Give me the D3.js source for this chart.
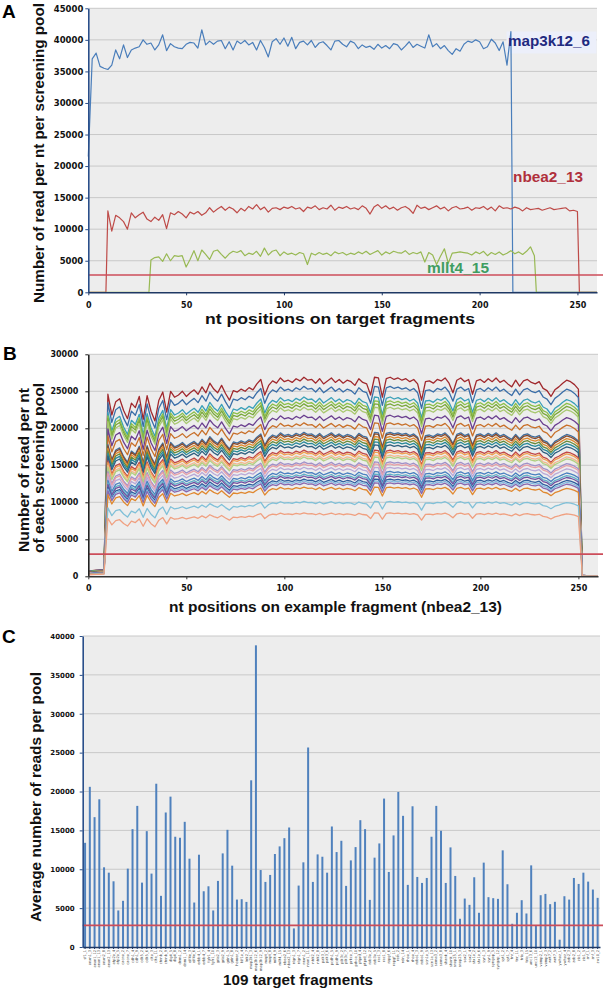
<!DOCTYPE html>
<html>
<head>
<meta charset="utf-8">
<script src="https://cdn.jsdelivr.net/npm/d3@7"></script>
<style>
  body { margin: 0; background: #fff; }
  svg { display: block; }
</style>
</head>
<body>
<svg id="fig" width="605" height="992"></svg>
<script>
// ---- Panel A : read depth per nt, three example fragments (values every 2 nt) ----
const aMaxPos = 260;
const aThreshold = 2750;

const map3k12From = 0;
const map3k12Vals = [
  21500, 37000, 37900, 35800, 35500, 35300, 36000, 38400, 37000, 39200,
  37200, 38400, 38700, 38900, 40000, 39300, 39500, 38400, 39200, 40800,
  38300, 39400, 38900, 38700, 38600, 39300, 39600, 39500, 38700, 41600,
  39200, 39800, 39300, 39800, 39900, 38600, 39700, 38400, 39800, 39400,
  39900, 39200, 39600, 38400, 39900, 38800, 37300, 39700, 40200, 39300,
  40300, 39000, 40400, 38600, 39600, 39800, 39200, 39900, 38800, 39500,
  39700, 39100, 38400, 39800, 39900, 39300, 38900, 39800, 39500, 38600,
  39200, 38800, 39000, 38500, 39300, 38700, 39100, 38600, 39400, 39200,
  38400, 39000, 39700, 38800, 39300, 39000, 38700, 40800, 38900, 39400,
  38600, 39100, 38300, 37700, 38600, 38200, 39300, 39800, 39600, 40000,
  39700, 38600, 38900, 40100, 39500, 38300, 39700, 36000, 41300
];

const nbea2From = 10;
const nbea2Vals = [
  12900, 9700, 12200, 11800, 11200, 10000, 12600, 11800, 12300, 12700,
  11600, 11200, 11900, 11400, 12300, 10100, 12600, 12300, 12800, 12400,
  11800, 12700, 12400, 12800, 12200, 12600, 13400, 12700, 13200, 13600,
  13000, 13500, 13200, 12600, 13300, 12900, 13600, 13200, 13900, 13100,
  13500, 12700, 13300, 13400, 13100, 13500, 13300, 13600, 13200, 13400,
  12800, 13500, 13300, 13700, 13100, 13400, 13200, 13800, 13000, 13500,
  13300, 13600, 13200, 13400, 13100, 13700, 13300, 12400, 13500, 13900,
  13300, 13700, 13200, 13500, 13000, 13400, 13600, 13200, 12500, 13800,
  13300, 13500, 13100, 13400, 13700, 13200, 13500, 12900, 13400, 13600,
  13200, 13300, 13500, 13000, 13400, 13300, 13600, 13100, 13500, 12900,
  13700, 13300, 13400, 13200, 13500, 13300, 12900, 13400, 13100, 13200,
  13300, 13000, 13200, 13400, 13100, 13200, 13300, 13400, 12900, 13000,
  12800
];

const mllt4From = 32;
const mllt4Vals = [
  5100, 5500, 5600, 4900, 6100, 5000, 5800, 5700, 5800, 4000,
  5200, 6600, 5000, 6700, 6000, 5200, 6500, 6700, 6000, 5400,
  6100, 6500, 6300, 6600, 5800, 6200, 6000, 6500, 5700, 7000,
  5900, 6500, 6700, 5800, 6400, 6000, 6200, 5900, 6300, 6100,
  4400, 6200, 5900, 6300, 6000, 6200, 5800, 6400, 6100, 6300,
  5900, 6200, 6000, 6400, 6100, 6500, 6000, 6300, 6600, 5900,
  6400, 6100, 6500, 6300, 6200, 6600, 6000, 6300, 6100, 6400,
  4800, 6300, 5900, 4400, 5700, 6900, 4600, 6200, 6300, 6400,
  6300, 6200, 5900, 6400, 6100, 6500, 5800, 6300, 6000, 6400,
  5900, 6200, 6600, 6100, 6400, 6000, 6500, 7200, 5800
];

const aNames  = ["map3k12_6", "nbea2_13", "mllt4_15"];
const aColors = ["#4a7ebb", "#be4b48", "#98b954"];

// ---- Panel B : nbea2_13 coverage in each screening pool ----
// coverage profile of the deepest pool (every 2 nt from 0 to 260), and plateau level of every pool
const bThreshold = 3000;
const bProfile = [
  650, 760, 820, 860, 900,
  24600, 21800, 23600, 24000, 22400, 21300, 23400, 22800, 24300, 21200,
  24400, 22300, 21000, 23800, 24900, 22200, 25000, 24200, 24500, 25000,
  24300, 24800, 25200, 24600, 25600, 24800, 26100, 25300, 24800, 25800,
  24700, 23800, 25100, 24900, 25300, 25000, 25500, 25200, 26000, 26600,
  24500, 25800, 26400, 26100, 26800, 26300, 26500, 26200, 26700, 26400,
  26900, 26500, 26600, 26100, 26700, 26000, 26400, 26800, 26200, 26600,
  26100, 26500, 26300, 25800, 26700, 26200, 26000, 24500, 26900, 26800,
  24200, 26700, 26900, 26600, 26800, 26500, 26700, 26300, 26600, 26000,
  23800, 26300, 26400, 26100, 26600, 26400, 26800, 26100, 24800, 26500,
  26800, 26300, 26600, 24600, 26400, 26600, 26200, 26700, 26300, 26800,
  26200, 26500, 26000, 25600, 26500, 25700, 26400, 26600, 26200, 26000,
  26300, 25400, 25100, 24300, 25200, 25600, 26100, 26500, 26300, 25900,
  25300,
  150, 100, 80, 60, 50
];
const bPoolLevels = [
  26200, 25000, 23600, 23100, 22700, 22250, 21200, 20200, 18950, 18750,
  18400, 18050, 17700, 17300, 16600, 16350, 15950, 15700, 15050, 14800,
  14350, 13800, 13450, 13200, 12800, 12550, 12300, 11750, 9850, 8350
];
const bPoolColors = [
  "#a0282d", "#3a6ea8", "#3aa0b8", "#8cc04a", "#7aa83c", "#a8c870", "#6a3f8f", "#c8702a", "#3f6f9f", "#8a4a2a",
  "#e08a30", "#6a8a3a", "#2a8a9a", "#2f5f7f", "#c04848", "#f0a050", "#f2b890", "#b0d080", "#a090c8", "#e8a0a8",
  "#b8a8d8", "#4a80c0", "#60b0c8", "#7050a0", "#2f5f9f", "#80b8e0", "#8868b0", "#e08830", "#80c0d8", "#f0a080"
];

// ---- Panel C : average reads per pool for the 109 target fragments ----
const cThreshold = 2780;
const cNames = [
  "sf1_1", "anxn1_3", "anxn1_12", "anxn1_13", "anxn2_8", "anxn2_13", "atp2a_4", "atp2a_5", "cacna_2", "cacna_7",
  "cdh1_4", "cdh1_9", "cdk5_2", "cdk5_6", "clta_3", "clta_11", "ctnnb_2", "ctnnb_9", "dlg4_5", "dlg4_8",
  "dnm1_2", "dnm1_14", "eif4e_3", "eif4e_6", "erbb4_1", "erbb4_7", "fgfr1_4", "fgfr1_10", "gria2_3", "gria2_9",
  "grin1_5", "grin1_8", "homer_2", "kif1a_4", "lrrk2_7", "map2k1_3", "map3k12_6", "map3k12_9", "mapt_2", "mapt_8",
  "mllt4_9", "mllt4_15", "nbea2_6", "nbea2_13", "nlgn1_3", "nlgn1_7", "nrxn1_2", "nrxn1_11", "ntrk2_4", "ntrk2_8",
  "pak3_1", "pak3_6", "pcdh1_5", "pcdh1_9", "pik3c_2", "pik3c_7", "prkca_3", "prkca_10", "ptprd_4", "ptprd_12",
  "rab3a_2", "rab3a_5", "rac1_3", "rac1_8", "rapgf_6", "rapgf_11", "reln_2", "reln_14", "rhoa_1", "rhoa_4",
  "robo1_3", "robo1_9", "scn1a_5", "scn1a_13", "sema3_2", "sema3_8", "shank_4", "shank_10", "snap25_1", "snap25_3",
  "sox2_1", "sox2_4", "stx1a_2", "stx1a_6", "syn1_3", "syn1_9", "syngap_5", "syngap_12", "syt1_2", "syt1_7",
  "tnr_4", "tnr_11", "trio_3", "trio_15", "unc13_6", "unc13_10", "vamp2_1", "vamp2_3", "wnt7_2", "wnt7_5",
  "ywhaz_1", "ywhaz_4", "zeb2_3", "zeb2_8", "zic1_2", "zic1_5", "znf_1", "znf_3", "zw10_2"
];
const cValues = [
  13400, 20600, 16700, 19000, 10250, 9560, 8450, 4700, 5940, 10080,
  15160, 18150, 8280, 14900, 9440, 21000, 6580, 17300, 19340, 14180,
  14050, 16100, 11360, 5720, 11870, 7170, 7810, 4700, 8500, 12040,
  15070, 10460, 6100, 6150, 5800, 21440, 38800, 9900, 8370, 9270,
  11960, 12940, 14000, 15370, 2390, 7900, 10890, 25660, 8370, 11910,
  11610, 9560, 15500, 12210, 13660, 7860, 11140, 12850, 16310, 15160,
  6060, 11490, 13320, 19090, 9650, 14350, 19940, 16870, 7990, 18100,
  9010, 8240, 8880, 14180, 18150, 14950, 8240, 12810, 9140, 3630,
  6230, 5420, 8970, 4400, 10850, 6410, 6280, 6190, 12430, 8070,
  2990, 4400, 6020, 4310, 10500, 2730, 6660, 6830, 5510, 5810,
  940, 6530, 6100, 8880, 8110, 9560, 8410, 7390, 6320
];

// ---------------------------------------------------------------
const svg = d3.select("#fig");
const titleFont = "'Liberation Sans', Arial, sans-serif";
const tickFont = "'DejaVu Sans', sans-serif";
const plotBg = "#ededed";
const gridColor = "#c9c9c9";
const thresholdColor = "#cc4d5a";

// zero-padded point list for a fragment that is only covered from `from` onwards
function buildPoints(from, vals) {
  let pts = [];
  if (from > 0) pts.push([0, 0], [from - 1, 0]);
  vals.forEach((v, i) => pts.push([from + 2 * i, v]));
  let last = from + 2 * (vals.length - 1);
  pts.push([last + 1, 0], [aMaxPos, 0]);
  return pts;
}

function plotFrame(g, x, y, x0, x1, ticks) {
  g.append("rect")
    .attr("x", x0).attr("y", y.range()[1])
    .attr("width", x1 - x0).attr("height", y.range()[0] - y.range()[1])
    .attr("fill", plotBg);
  g.append("g").selectAll("line")
    .data(ticks.filter(d => d > 0))
    .join("line")
    .attr("x1", x0).attr("x2", x1)
    .attr("y1", d => y(d)).attr("y2", d => y(d))
    .attr("stroke", gridColor).attr("stroke-width", 1);
}

function styleAxis(g, color, size) {
  g.attr("font-family", tickFont).attr("font-size", size);
  g.select(".domain").attr("stroke", color).attr("stroke-width", 1.6);
  g.selectAll(".tick line").attr("stroke", color);
  g.selectAll(".tick text").attr("fill", "#111").style("font-weight", "bold");
}

function rotatedTitle(x, yMid, len, lines) {
  svg.append("text")
    .attr("transform", `translate(${x},${yMid}) rotate(-90)`)
    .attr("text-anchor", "middle")
    .attr("textLength", len).attr("lengthAdjust", "spacingAndGlyphs")
    .style("font-family", titleFont).style("font-weight", "bold").style("font-size", "15px")
    .attr("fill", "#111")
    .text(lines);
}

function flatTitle(xMid, yBase, len, size, txt) {
  svg.append("text")
    .attr("x", xMid).attr("y", yBase)
    .attr("text-anchor", "middle")
    .attr("textLength", len).attr("lengthAdjust", "spacingAndGlyphs")
    .style("font-family", titleFont).style("font-weight", "bold").style("font-size", size + "px")
    .attr("fill", "#111")
    .text(txt);
}

function panelLetter(x, y, letter) {
  svg.append("text").attr("x", x).attr("y", y)
    .style("font-family", titleFont).style("font-weight", "bold").style("font-size", "19px")
    .attr("fill", "#000").text(letter);
}

// ================= Panel A =================
const xA = d3.scaleLinear().domain([0, aMaxPos]).range([88.3, 597]);
const yA = d3.scaleLinear().domain([0, 45000]).range([292.3, 8.3]);
const aTicks = d3.range(0, 45001, 5000);
const gA = svg.append("g");
plotFrame(gA, xA, yA, 88.3, 597, aTicks);

// label box behind map3k12_6
gA.append("rect").attr("x", 506.5).attr("y", 31.5).attr("width", 90).attr("height", 22)
  .attr("fill", "#eceffa");

const lineA = d3.line().x(d => xA(d[0])).y(d => yA(d[1]));
const aSeries = [
  buildPoints(map3k12From, map3k12Vals),
  buildPoints(nbea2From, nbea2Vals),
  buildPoints(mllt4From, mllt4Vals)
];
gA.append("g").selectAll("path")
  .data(aSeries)
  .join("path")
  .attr("d", lineA)
  .attr("fill", "none")
  .attr("stroke", (d, i) => aColors[i])
  .attr("stroke-width", 1.2)
  .attr("stroke-linejoin", "round");

gA.append("line")
  .attr("x1", xA(0)).attr("x2", 603)
  .attr("y1", yA(aThreshold)).attr("y2", yA(aThreshold))
  .attr("stroke", thresholdColor).attr("stroke-width", 1.6);

// series labels
const aLabelPos = [[508, 45.5, 82, "#1f2a80"], [513, 181.5, 70, "#b0303c"], [427, 272.5, 62, "#3f9d62"]];
aNames.forEach((n, i) => {
  const p = aLabelPos[i];
  gA.append("text").attr("x", p[0]).attr("y", p[1])
    .attr("textLength", p[2]).attr("lengthAdjust", "spacingAndGlyphs")
    .style("font-family", titleFont).style("font-weight", "bold").style("font-size", "15px")
    .attr("fill", p[3]).text(n);
});

const axAy = gA.append("g").attr("transform", "translate(88.3,0)")
  .call(d3.axisLeft(yA).tickValues(aTicks).tickFormat(d3.format("d")).tickSize(3).tickPadding(2).tickSizeOuter(0));
styleAxis(axAy, "#2a4f8a", 8.5);
const axAx = gA.append("g").attr("transform", "translate(0,292.3)")
  .call(d3.axisBottom(xA).tickValues(d3.range(0, 251, 50)).tickSize(3).tickPadding(7).tickSizeOuter(0));
styleAxis(axAx, "#1f3864", 8);

panelLetter(2, 18, "A");
rotatedTitle(44, 153, 300, "Number of read per nt per screening pool");
flatTitle(340, 324, 270, 15.5, "nt positions on target fragments");

// ================= Panel B =================
const xB = d3.scaleLinear().domain([0, aMaxPos]).range([88.3, 598]);
const yB = d3.scaleLinear().domain([0, 30000]).range([576.3, 354.3]);
const bTicks = d3.range(0, 30001, 5000);
const gB = svg.append("g");
plotFrame(gB, xB, yB, 88.3, 598, bTicks);

const bTop = bPoolLevels[0];
const bSeries = bPoolLevels.map(level => bProfile.map((v, i) => [2 * i, v * level / bTop]));
const lineB = d3.line().x(d => xB(d[0])).y(d => yB(d[1]));
gB.append("g").selectAll("path")
  .data(bSeries)
  .join("path")
  .attr("d", lineB)
  .attr("fill", "none")
  .attr("stroke", (d, i) => bPoolColors[i])
  .attr("stroke-width", 1.3)
  .attr("stroke-linejoin", "round");

gB.append("line")
  .attr("x1", xB(0)).attr("x2", 603)
  .attr("y1", yB(bThreshold)).attr("y2", yB(bThreshold))
  .attr("stroke", thresholdColor).attr("stroke-width", 1.6);

const axBy = gB.append("g").attr("transform", "translate(88.3,0)")
  .call(d3.axisLeft(yB).tickValues(bTicks).tickFormat(d3.format("d")).tickSize(3).tickPadding(7).tickSizeOuter(0));
styleAxis(axBy, "#222", 8);
const axBx = gB.append("g").attr("transform", "translate(0,576.3)")
  .call(d3.axisBottom(xB).tickValues(d3.range(0, 251, 50)).tickSize(3).tickPadding(6).tickSizeOuter(0));
styleAxis(axBx, "#333", 8);

panelLetter(3, 360, "B");
rotatedTitle(29, 470, 164, "Number of read per nt");
rotatedTitle(44, 468, 170, "of each screening pool");
flatTitle(335.5, 612, 333, 15, "nt positions on example fragment (nbea2_13)");

// ================= Panel C =================
const xC = d3.scaleBand().domain(cNames).range([82.7, 600]).paddingInner(0.58).paddingOuter(0.29);
const yC = d3.scaleLinear().domain([0, 40000]).range([947, 636]);
const cTicks = d3.range(0, 40001, 5000);
const gC = svg.append("g");
plotFrame(gC, xC, yC, 82.7, 600, cTicks);

gC.append("g").selectAll("rect")
  .data(cValues)
  .join("rect")
  .attr("x", (d, i) => xC(cNames[i]))
  .attr("width", xC.bandwidth())
  .attr("y", d => yC(d))
  .attr("height", d => yC(0) - yC(d))
  .attr("fill", "#4f81bd");

gC.append("line")
  .attr("x1", 82.7).attr("x2", 603)
  .attr("y1", yC(cThreshold)).attr("y2", yC(cThreshold))
  .attr("stroke", thresholdColor).attr("stroke-width", 1.6);

const axCy = gC.append("g").attr("transform", "translate(82.7,0)")
  .call(d3.axisLeft(yC).tickValues(cTicks).tickFormat(d3.format("d")).tickSize(3).tickPadding(5).tickSizeOuter(0));
styleAxis(axCy, "#2a4f8a", 7);
const axCx = gC.append("g").attr("transform", "translate(0,947)")
  .call(d3.axisBottom(xC).tickSize(2).tickPadding(1).tickSizeOuter(0));
styleAxis(axCx, "#1f3864", 3.6);
axCx.selectAll(".tick text")
  .style("font-weight", "normal")
  .attr("fill", "#444")
  .attr("text-anchor", "end")
  .attr("dy", "0.32em")
  .attr("transform", "translate(0,3) rotate(-90)")
  .attr("x", 0).attr("y", 0);

panelLetter(2, 643, "C");
rotatedTitle(41, 797, 250, "Average number of reads per pool");
flatTitle(298, 985, 150, 14, "109 target fragments");
</script>
</body>
</html>
